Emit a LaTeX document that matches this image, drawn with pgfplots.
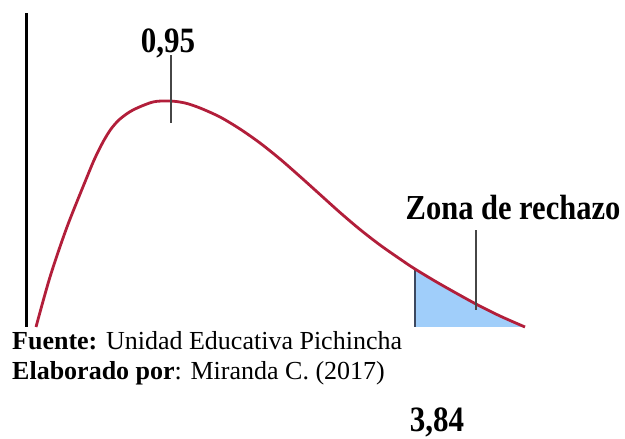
\documentclass[border=0pt]{standalone}
\usepackage{fontspec}
\setmainfont{Liberation Serif}
\usepackage{pgfplots}
\pgfplotsset{compat=1.18}
\definecolor{curvecol}{RGB}{178,30,58}
\definecolor{shadecol}{RGB}{160,206,250}
\definecolor{edgecol}{RGB}{60,72,95}
\definecolor{tickcol}{RGB}{70,70,70}
\begin{document}
\begin{tikzpicture}
\useasboundingbox (0,0) rectangle (625bp,439bp);
\begin{axis}[
  at={(0,0)}, anchor=origin,
  scale only axis, width=625bp, height=439bp,
  xmin=0, xmax=625, ymin=0, ymax=439,
  hide axis, clip=false,
]
% shaded rejection zone
\addplot[fill=shadecol, draw=none] coordinates {
  (415,112) (415,170) (440,155) (475,135.5) (500,123) (525,112)
} -- cycle;
\addplot[edgecol, line width=1.6bp] coordinates {(415,112) (415,170)};
% vertical axis line
\addplot[black, line width=3bp] coordinates {(26,112) (26,426)};
% density curve
\addplot[curvecol, line width=2.8bp, smooth, tension=0.5] coordinates {
  (36,112) (50,162) (67,212) (87,262) (95,281) (103,297) (111,310) (120,320) (133,329)
  (153,337) (170,338) (185,336) (200,331) (220,322) (240,310) (260,296)
  (280,280) (300,262.5) (320,244.5) (340,226.5) (360,209.5) (380,194) (400,180)
  (415,170) (440,155) (475,135.5) (500,123) (525,112)
};
% marker lines
\addplot[tickcol, line width=2bp] coordinates {(171,316) (171,384)};
\addplot[tickcol, line width=2bp] coordinates {(476,129) (476,209)};
% labels
\node[anchor=base, inner sep=0pt, yscale=1.15, font=\fontsize{31bp}{31bp}\selectfont\bfseries] at (axis cs:168,386) {0,95};
\node[anchor=base, inner sep=0pt, yscale=1.15, font=\fontsize{30.5bp}{30.5bp}\selectfont\bfseries] at (axis cs:513,219) {Zona de rechazo};
\node[anchor=base, inner sep=0pt, yscale=1.15, font=\fontsize{31bp}{31bp}\selectfont\bfseries] at (axis cs:437,8) {3,84};
\node[anchor=base west, inner sep=0pt, font=\fontsize{26bp}{26bp}\selectfont] at (axis cs:12,89) {\textbf{Fuente:} Unidad Educativa Pichincha};
\node[anchor=base west, inner sep=0pt, font=\fontsize{26bp}{26bp}\selectfont] at (axis cs:12,59) {\textbf{Elaborado por}: Miranda C. (2017)};
\end{axis}
\end{tikzpicture}
\end{document}
